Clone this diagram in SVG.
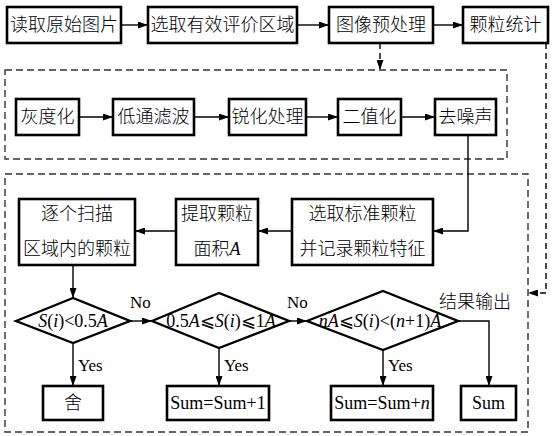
<svg xmlns="http://www.w3.org/2000/svg" width="552" height="436" viewBox="0 0 552 436">
<defs>
<marker id="ah" markerWidth="10" markerHeight="7" refX="10" refY="3.5" orient="auto" markerUnits="userSpaceOnUse"><path d="M0,0 L10,3.5 L0,7 z" fill="#000"/></marker>
</defs>
<style>
.box{fill:#fff;stroke:#000;stroke-width:2.6}
.dia{fill:#fff;stroke:#000;stroke-width:2.4}
.dbox{fill:none;stroke:#333;stroke-width:1.4;stroke-dasharray:7 4}
.ln{fill:none;stroke:#000;stroke-width:1.4}
.dl{fill:none;stroke:#000;stroke-width:1.4;stroke-dasharray:6 4}
.arr{marker-end:url(#ah)}
.cn{font-family:"Liberation Serif","Noto Sans CJK SC",serif;font-size:18px;font-weight:300;text-anchor:middle;dominant-baseline:central;fill:#000}
.en{font-family:"Liberation Serif","DejaVu Serif",serif;font-size:18px;text-anchor:middle;dominant-baseline:central;fill:#000}
.lb{font-family:"Liberation Serif","DejaVu Serif",serif;font-size:17px;dominant-baseline:central;fill:#000}
.it{font-style:italic}
</style>
<rect width="552" height="436" fill="#fff"/>

<g id="frames">
<rect class="dbox" x="5" y="70" width="502" height="89"/>
<rect class="dbox" x="5" y="174" width="523" height="258"/>
</g>

<g id="connectors">
<line class="ln arr" x1="121" y1="25" x2="148" y2="25"/>
<line class="ln arr" x1="297" y1="25" x2="329" y2="25"/>
<line class="ln arr" x1="433" y1="25" x2="463" y2="25"/>
<line class="dl arr" x1="380" y1="43" x2="380" y2="70"/>
<polyline class="dl arr" points="546,43 546,293 528,293"/>
<line class="ln arr" x1="79" y1="117" x2="113" y2="117"/>
<line class="ln arr" x1="194" y1="117" x2="229" y2="117"/>
<line class="ln arr" x1="306" y1="117" x2="338" y2="117"/>
<line class="ln arr" x1="401" y1="117" x2="435" y2="117"/>
<polyline class="ln arr" points="468,135 468,231 433,231"/>
<line class="ln arr" x1="292" y1="231" x2="258" y2="231"/>
<line class="ln arr" x1="176" y1="231" x2="135" y2="231"/>
<line class="ln arr" x1="73" y1="265" x2="73" y2="298"/>
<line class="ln arr" x1="130" y1="321" x2="152" y2="321"/>
<line class="ln arr" x1="289" y1="321" x2="307" y2="321"/>
<polyline class="ln arr" points="458,321 489,321 489,386"/>
<line class="ln arr" x1="73" y1="343" x2="73" y2="386"/>
<line class="ln arr" x1="219" y1="348" x2="219" y2="386"/>
<line class="ln arr" x1="383" y1="350" x2="383" y2="386"/>
<text class="lb" x="130" y="302">No</text>
<text class="lb" x="287" y="302">No</text>
<text class="lb" x="78" y="365">Yes</text>
<text class="lb" x="224" y="365">Yes</text>
<text class="lb" x="388" y="365">Yes</text>
<text class="cn" x="475" y="302">结果输出</text>
</g>

<g id="n1"><rect class="box" x="7" y="7" width="114" height="36"/><text class="cn" x="64" y="25">读取原始图片</text></g>
<g id="n2"><rect class="box" x="148" y="7" width="149" height="36"/><text class="cn" x="222.5" y="25">选取有效评价区域</text></g>
<g id="n3"><rect class="box" x="329" y="7" width="104" height="36"/><text class="cn" x="381" y="25">图像预处理</text></g>
<g id="n4"><rect class="box" x="463" y="7" width="85" height="36"/><text class="cn" x="505.5" y="25">颗粒统计</text></g>

<g id="p1"><rect class="box" x="16" y="99" width="63" height="36"/><text class="cn" x="47.5" y="117">灰度化</text></g>
<g id="p2"><rect class="box" x="113" y="99" width="81" height="36"/><text class="cn" x="153.5" y="117">低通滤波</text></g>
<g id="p3"><rect class="box" x="229" y="99" width="77" height="36"/><text class="cn" x="267.5" y="117">锐化处理</text></g>
<g id="p4"><rect class="box" x="338" y="99" width="63" height="36"/><text class="cn" x="369.5" y="117">二值化</text></g>
<g id="p5"><rect class="box" x="435" y="99" width="61" height="36"/><text class="cn" x="465.5" y="117">去噪声</text></g>

<g id="s1"><rect class="box" x="19" y="199" width="116" height="66"/><text class="cn" x="77" y="214">逐个扫描</text><text class="cn" x="77" y="249">区域内的颗粒</text></g>
<g id="s2"><rect class="box" x="176" y="199" width="82" height="66"/><text class="cn" x="217" y="214">提取颗粒</text><text class="cn" x="217" y="249">面积<tspan class="it" font-family="Liberation Serif" font-weight="400">A</tspan></text></g>
<g id="s3"><rect class="box" x="292" y="199" width="141" height="66"/><text class="cn" x="362.5" y="214">选取标准颗粒</text><text class="cn" x="362.5" y="249">并记录颗粒特征</text></g>

<g id="d1"><polygon class="dia" points="16,321 73,298 130,321 73,343"/><text class="en" x="73" y="321" font-size="19"><tspan class="it">S</tspan>(<tspan class="it">i</tspan>)&lt;0.5<tspan class="it">A</tspan></text></g>
<g id="d2"><polygon class="dia" points="152,321 219,293 289,321 219,348"/><text class="en" x="221" y="321" font-size="16.5">0.5<tspan class="it">A</tspan>⩽<tspan class="it">S</tspan>(<tspan class="it">i</tspan>)⩽1<tspan class="it">A</tspan></text></g>
<g id="d3"><polygon class="dia" points="307,321 383,291 458,321 383,350"/><text class="en" x="380" y="321" font-size="17"><tspan class="it">nA</tspan>⩽<tspan class="it">S</tspan>(<tspan class="it">i</tspan>)&lt;(<tspan class="it">n</tspan>+1)<tspan class="it">A</tspan></text></g>

<g id="r1"><rect class="box" x="43" y="386" width="60" height="34"/><text class="cn" x="73" y="403">舍</text></g>
<g id="r2"><rect class="box" x="167" y="386" width="102" height="34"/><text class="en" x="218" y="403">Sum=Sum+1</text></g>
<g id="r3"><rect class="box" x="331" y="386" width="102" height="34"/><text class="en" x="382" y="403">Sum=Sum+<tspan class="it">n</tspan></text></g>
<g id="r4"><rect class="box" x="461" y="386" width="55" height="34"/><text class="en" x="488.5" y="403">Sum</text></g>
</svg>
